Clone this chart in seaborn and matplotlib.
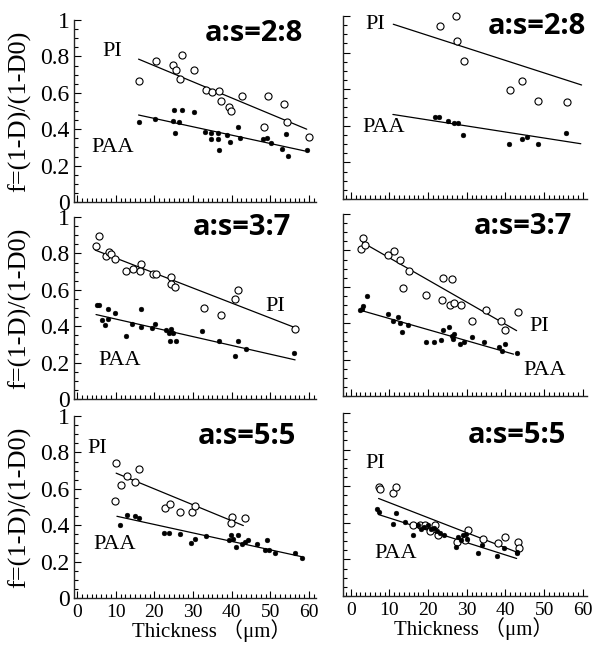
import matplotlib
matplotlib.use("Agg")
import matplotlib.pyplot as plt
from matplotlib.ticker import MultipleLocator, FuncFormatter
import seaborn as sns

# Film thickness (um) versus f = (1-D)/(1-D0), two sample series per panel.
# Left column -----------------------------------------------------------
l28_pi_x = [16.0, 20.3, 24.8, 25.5, 27.1, 26.6, 30.3, 33.3, 34.9, 36.7, 37.2, 39.4, 39.9, 42.7, 48.4, 49.4, 53.4, 54.2, 60.0]
l28_pi_y = [0.665, 0.772, 0.752, 0.726, 0.809, 0.674, 0.724, 0.618, 0.607, 0.609, 0.557, 0.524, 0.498, 0.585, 0.413, 0.585, 0.539, 0.437, 0.357]
l28_paa_x = [16.0, 20.2, 24.7, 26.4, 25.1, 27.1, 25.3, 30.3, 33.1, 34.7, 34.7, 36.5, 36.5, 36.7, 38.9, 39.5, 41.7, 42.1, 48.2, 49.0, 50.1, 52.9, 54.0, 54.5, 59.6]
l28_paa_y = [0.441, 0.456, 0.444, 0.441, 0.506, 0.506, 0.378, 0.493, 0.385, 0.381, 0.348, 0.381, 0.348, 0.285, 0.370, 0.332, 0.413, 0.354, 0.348, 0.354, 0.326, 0.289, 0.374, 0.254, 0.285]
l28_pi_fit_x, l28_pi_fit_y = [15.9, 59.4], [0.785, 0.400]
l28_paa_fit_x, l28_paa_fit_y = [15.9, 59.0], [0.478, 0.280]

l37_pi_x = [4.9, 5.6, 7.5, 8.2, 8.9, 9.8, 12.7, 14.4, 16.5, 16.3, 19.7, 20.4, 24.2, 24.2, 25.3, 32.7, 37.2, 40.9, 41.5, 56.4]
l37_pi_y = [0.843, 0.893, 0.783, 0.805, 0.795, 0.770, 0.701, 0.714, 0.741, 0.701, 0.689, 0.689, 0.670, 0.634, 0.616, 0.501, 0.461, 0.550, 0.601, 0.386]
l37_paa_x = [5.1, 5.6, 8.1, 9.8, 6.4, 7.2, 8.1, 12.7, 14.2, 16.5, 16.5, 19.5, 20.1, 23.1, 24.2, 23.8, 24.9, 24.0, 25.6, 32.4, 36.8, 40.9, 41.5, 43.7, 56.1]
l37_paa_y = [0.514, 0.514, 0.492, 0.474, 0.433, 0.404, 0.439, 0.346, 0.410, 0.496, 0.395, 0.391, 0.410, 0.379, 0.386, 0.364, 0.364, 0.319, 0.319, 0.373, 0.319, 0.237, 0.319, 0.273, 0.251]
l37_pi_fit_x, l37_pi_fit_y = [4.7, 56.4], [0.818, 0.392]
l37_paa_fit_x, l37_paa_fit_y = [4.9, 56.4], [0.464, 0.215]

l55_pi_x = [10.1, 11.3, 12.8, 15.0, 16.1, 9.8, 22.8, 24.0, 26.6, 29.7, 30.5, 40.0, 39.8, 43.4]
l55_pi_y = [0.741, 0.623, 0.669, 0.638, 0.710, 0.533, 0.497, 0.515, 0.470, 0.470, 0.506, 0.443, 0.411, 0.438]
l55_paa_x = [11.1, 12.8, 15.0, 16.1, 22.5, 23.9, 26.6, 29.4, 30.5, 33.3, 39.4, 39.7, 40.4, 41.1, 41.6, 42.6, 43.4, 44.3, 46.5, 49.1, 48.6, 49.7, 51.2, 56.4, 58.1]
l55_paa_y = [0.402, 0.458, 0.452, 0.440, 0.357, 0.357, 0.350, 0.303, 0.326, 0.339, 0.317, 0.344, 0.326, 0.281, 0.344, 0.299, 0.308, 0.317, 0.299, 0.321, 0.263, 0.263, 0.249, 0.245, 0.218]
l55_pi_fit_x, l55_pi_fit_y = [10.1, 43.0], [0.686, 0.398]
l55_paa_fit_x, l55_paa_fit_y = [10.3, 58.1], [0.449, 0.227]

# Right column ----------------------------------------------------------
r28_pi_x = [23.1, 27.1, 27.4, 29.2, 41.1, 44.4, 48.4, 55.8]
r28_pi_y = [0.945, 1.0, 0.864, 0.755, 0.596, 0.643, 0.534, 0.528]
r28_paa_x = [21.8, 22.9, 25.1, 26.8, 27.7, 29.1, 40.9, 44.2, 45.5, 48.3, 55.6]
r28_paa_y = [0.449, 0.449, 0.426, 0.417, 0.417, 0.351, 0.302, 0.326, 0.340, 0.302, 0.358]
r28_pi_fit_x, r28_pi_fit_y = [11.0, 59.7], [0.955, 0.623]
r28_paa_fit_x, r28_paa_fit_y = [10.9, 59.5], [0.462, 0.302]

r37_pi_x = [2.7, 3.3, 3.7, 9.7, 11.2, 12.7, 15.1, 13.4, 19.4, 23.5, 23.9, 26.2, 25.7, 26.8, 28.6, 31.4, 34.9, 38.8, 39.9, 43.3]
r37_pi_y = [0.807, 0.869, 0.832, 0.773, 0.797, 0.746, 0.687, 0.593, 0.556, 0.530, 0.650, 0.643, 0.501, 0.512, 0.501, 0.414, 0.473, 0.414, 0.365, 0.464]
r37_paa_x = [2.4, 3.1, 4.1, 2.9, 9.7, 11.0, 12.1, 12.7, 13.2, 14.9, 19.4, 21.6, 23.3, 23.9, 25.5, 26.3, 26.5, 26.8, 28.3, 29.3, 31.3, 34.5, 38.4, 39.1, 39.8, 43.0]
r37_paa_y = [0.473, 0.497, 0.547, 0.479, 0.448, 0.414, 0.436, 0.401, 0.354, 0.390, 0.295, 0.295, 0.308, 0.365, 0.381, 0.331, 0.313, 0.341, 0.285, 0.295, 0.322, 0.295, 0.267, 0.245, 0.285, 0.239]
r37_pi_fit_x, r37_pi_fit_y = [3.1, 42.9], [0.843, 0.359]
r37_paa_fit_x, r37_paa_fit_y = [2.7, 42.1], [0.470, 0.230]

r55_pi_x = [7.2, 7.6, 11.0, 11.7, 16.2, 17.9, 19.2, 21.8, 20.5, 22.5, 27.4, 30.3, 29.6, 34.2, 38.2, 39.9, 43.2, 43.4]
r55_pi_y = [0.596, 0.582, 0.564, 0.593, 0.387, 0.387, 0.387, 0.387, 0.356, 0.333, 0.296, 0.360, 0.305, 0.309, 0.287, 0.320, 0.296, 0.260]
r55_paa_x = [6.9, 7.4, 11.0, 11.6, 14.1, 16.0, 17.5, 18.1, 18.9, 20.1, 20.8, 21.6, 22.4, 23.1, 24.0, 27.2, 27.8, 28.5, 29.1, 30.0, 29.7, 32.8, 33.9, 37.9, 39.7, 42.9, 42.9]
r55_paa_y = [0.475, 0.460, 0.393, 0.451, 0.405, 0.333, 0.387, 0.364, 0.375, 0.387, 0.364, 0.369, 0.356, 0.342, 0.333, 0.269, 0.324, 0.305, 0.333, 0.309, 0.338, 0.233, 0.278, 0.218, 0.260, 0.242, 0.233]
r55_pi_fit_x, r55_pi_fit_y = [7.2, 43.4], [0.533, 0.236]
r55_paa_fit_x, r55_paa_fit_y = [7.2, 42.9], [0.445, 0.205]

ratio_labels = ["a:s=2:8", "a:s=3:7", "a:s=5:5"]
y_ticks = [0, 0.2, 0.4, 0.6, 0.8, 1.0]
x_ticks = [0, 10, 20, 30, 40, 50, 60]

sns.set_theme(style="ticks")
plt.rcParams["font.family"] = ["Liberation Serif", "Noto Sans CJK JP"]
plt.rcParams["axes.linewidth"] = 1.0

SERIF = ["Liberation Serif", "Noto Sans CJK JP"]

fig = plt.figure(figsize=(6.04, 6.45), dpi=100)

W, H = 604.0, 645.0
col_px = [(74, 242), (343, 244)]
row_px_left = [(20, 202), (217, 399), (416, 598)]
row_px_right = [(16, 199), (214, 396), (413, 596)]
xlims = [(-0.8, 61.8), (-2.0, 61.1)]

panels = [
    # column 0
    [
        dict(pi=(l28_pi_x, l28_pi_y), paa=(l28_paa_x, l28_paa_y),
             pifit=(l28_pi_fit_x, l28_pi_fit_y), paafit=(l28_paa_fit_x, l28_paa_fit_y),
             pi_at=(9.0, 0.826), paa_at=(9.3, 0.30), tag_at=(45.8, 0.925)),
        dict(pi=(l37_pi_x, l37_pi_y), paa=(l37_paa_x, l37_paa_y),
             pifit=(l37_pi_fit_x, l37_pi_fit_y), paafit=(l37_paa_fit_x, l37_paa_fit_y),
             pi_at=(51.2, 0.51), paa_at=(11.1, 0.21), tag_at=(42.6, 0.94)),
        dict(pi=(l55_pi_x, l55_pi_y), paa=(l55_paa_x, l55_paa_y),
             pifit=(l55_pi_fit_x, l55_pi_fit_y), paafit=(l55_paa_fit_x, l55_paa_fit_y),
             pi_at=(5.3, 0.82), paa_at=(9.8, 0.296), tag_at=(43.9, 0.885)),
    ],
    # column 1
    [
        dict(pi=(r28_pi_x, r28_pi_y), paa=(r28_paa_x, r28_paa_y),
             pifit=(r28_pi_fit_x, r28_pi_fit_y), paafit=(r28_paa_fit_x, r28_paa_fit_y),
             pi_at=(6.3, 0.955), paa_at=(8.4, 0.39), tag_at=(48.1, 0.94)),
        dict(pi=(r37_pi_x, r37_pi_y), paa=(r37_paa_x, r37_paa_y),
             pifit=(r37_pi_fit_x, r37_pi_fit_y), paafit=(r37_paa_fit_x, r37_paa_fit_y),
             pi_at=(48.8, 0.381), paa_at=(50.1, 0.138), tag_at=(44.5, 0.93)),
        dict(pi=(r55_pi_x, r55_pi_y), paa=(r55_paa_x, r55_paa_y),
             pifit=(r55_pi_fit_x, r55_pi_fit_y), paafit=(r55_paa_fit_x, r55_paa_fit_y),
             pi_at=(6.3, 0.724), paa_at=(11.5, 0.233), tag_at=(42.9, 0.878)),
    ],
]

for c in range(2):
    x0, w = col_px[c]
    rows = row_px_left if c == 0 else row_px_right
    for r in range(3):
        top, bot = rows[r]
        ax = fig.add_axes([x0 / W, 1 - bot / H, w / W, (bot - top) / H])
        p = panels[c][r]

        for fx, fy in (p["pifit"], p["paafit"]):
            sns.lineplot(x=fx, y=fy, ax=ax, color="black", linewidth=0.9,
                         estimator=None, legend=False)
        sns.scatterplot(x=p["pi"][0], y=p["pi"][1], ax=ax, marker="o", s=26,
                        facecolor="white", edgecolor="black", linewidth=0.8,
                        clip_on=False, zorder=3, legend=False)
        sns.scatterplot(x=p["paa"][0], y=p["paa"][1], ax=ax, marker="o", s=12,
                        color="black", edgecolor="black", linewidth=0.3,
                        clip_on=False, zorder=4, legend=False)

        ax.set_xlim(*xlims[c])
        ax.set_ylim(0, 1.0)
        sns.despine(ax=ax)

        ax.xaxis.set_minor_locator(MultipleLocator(1.25))
        ax.yaxis.set_minor_locator(MultipleLocator(0.05))
        ax.set_xticks(x_ticks)
        ax.set_yticks(y_ticks)
        ax.tick_params(which="both", direction="in", color="black", width=0.8)
        ax.tick_params(which="major", length=5)
        ax.tick_params(which="minor", length=3)
        ax.tick_params(axis="y", pad=3, labelsize=17)
        ax.tick_params(axis="x", pad=4, labelsize=14)
        ax.yaxis.set_major_formatter(FuncFormatter(lambda v, _: f"{v:g}"))
        for lab in ax.get_xticklabels() + ax.get_yticklabels():
            lab.set_family(SERIF)
            lab.set_color("black")

        if c == 1:
            ax.tick_params(axis="y", labelleft=False)
        else:
            ax.set_ylabel("f=(1-D)/(1-D0)", fontsize=19, family=SERIF, color="black")
            ax.yaxis.set_label_coords(-0.175, 0.5)
        if r < 2:
            ax.tick_params(axis="x", labelbottom=False)
            ax.set_xlabel("")
        else:
            ax.set_xlabel("Thickness \uff08\u03bcm\uff09", fontsize=15, family=SERIF, color="black")
            ax.xaxis.set_label_coords(0.57 if c == 0 else 0.537, -0.118)

        ax.text(*p["pi_at"], "PI", fontsize=16, family=SERIF, ha="center", va="center", color="black")
        ax.text(*p["paa_at"], "PAA", fontsize=16, family=SERIF, ha="center", va="center", color="black")
        ax.text(*p["tag_at"], ratio_labels[r], fontsize=21, family="Open Sans",
                fontweight="bold", ha="center", va="center", color="black")

fig.savefig("out.png", dpi=100, facecolor="white")
